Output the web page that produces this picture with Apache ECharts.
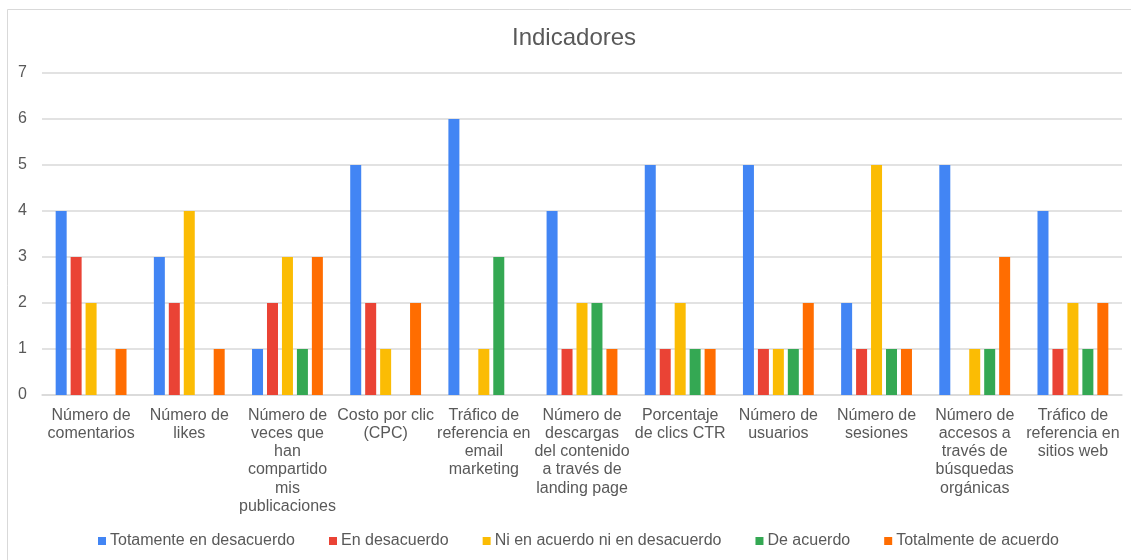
<!DOCTYPE html>
<html>
<head>
<meta charset="utf-8">
<script src="https://cdn.jsdelivr.net/npm/echarts@6/dist/echarts.min.js"></script>
<style>
  html, body { margin: 0; padding: 0; background: #ffffff; }
  #chart { width: 1131px; height: 560px; }
</style>
</head>
<body>
<div id="chart"></div>
<script>
// Category tick labels (pre-wrapped)
const categories = [
  'Número de\ncomentarios',
  'Número de\nlikes',
  'Número de\nveces que\nhan\ncompartido\nmis\npublicaciones',
  'Costo por clic\n(CPC)',
  'Tráfico de\nreferencia en\nemail\nmarketing',
  'Número de\ndescargas\ndel contenido\na través de\nlanding page',
  'Porcentaje\nde clics CTR',
  'Número de\nusuarios',
  'Número de\nsesiones',
  'Número de\naccesos a\ntravés de\nbúsquedas\norgánicas',
  'Tráfico de\nreferencia en\nsitios web'
];

const seriesNames = [
  'Totamente en desacuerdo',
  'En desacuerdo',
  'Ni en acuerdo ni en desacuerdo',
  'De acuerdo',
  'Totalmente de acuerdo'
];

const totalmenteDesacuerdo = [4, 3, 1, 5, 6, 4, 5, 5, 2, 5, 4];
const enDesacuerdo         = [3, 2, 2, 2, 0, 1, 1, 1, 1, 0, 1];
const niAcuerdoNiDesacuerdo = [2, 4, 3, 1, 1, 2, 2, 1, 5, 1, 2];
const deAcuerdo            = [0, 0, 1, 0, 3, 2, 1, 1, 1, 1, 1];
const totalmenteAcuerdo    = [1, 1, 3, 2, 0, 1, 1, 2, 1, 3, 2];

const seriesValues = [
  totalmenteDesacuerdo,
  enDesacuerdo,
  niAcuerdoNiDesacuerdo,
  deAcuerdo,
  totalmenteAcuerdo
];

const colors = ['#4285F4', '#EA4335', '#FBBC04', '#34A853', '#FF6D01'];
const textColor = '#595959';
const fontFamily = '"Liberation Sans", Arial, sans-serif';

const chart = echarts.init(document.getElementById('chart'), null, { renderer: 'canvas' });

chart.setOption({
  backgroundColor: '#ffffff',
  animation: false,
  color: colors,
  textStyle: { fontFamily: fontFamily },
  graphic: [{
    type: 'rect',
    silent: true,
    shape: { x: 7.5, y: 9.5, width: 1140, height: 570 },
    style: { fill: 'none', stroke: '#d9d9d9', lineWidth: 1 }
  }],
  title: {
    text: 'Indicadores',
    left: 512,
    top: 26,
    padding: 0,
    textStyle: { fontFamily: fontFamily, fontSize: 24, fontWeight: 'normal', color: textColor }
  },
  legend: {
    data: seriesNames,
    left: 98,
    top: 533,
    padding: 0,
    itemWidth: 8,
    itemHeight: 8,
    itemGap: 34,
    icon: 'rect',
    textStyle: { fontFamily: fontFamily, fontSize: 16, color: textColor, padding: [0, 0, 0, -1] }
  },
  grid: { left: 42, right: 9, top: 73, bottom: 165, containLabel: false },
  xAxis: {
    type: 'category',
    data: categories,
    axisLine: { show: true, lineStyle: { color: '#d9d9d9', width: 1.5 } },
    axisTick: { show: false },
    axisLabel: {
      interval: 0,
      margin: 11,
      fontFamily: fontFamily,
      fontSize: 16,
      lineHeight: 18.3,
      color: textColor,
      align: 'center',
      verticalAlign: 'top'
    }
  },
  yAxis: {
    type: 'value',
    min: 0,
    max: 7,
    interval: 1,
    axisLine: { show: false },
    axisTick: { show: false },
    splitLine: { lineStyle: { color: '#d9d9d9', width: 1.5 } },
    axisLabel: { margin: 15, fontFamily: fontFamily, fontSize: 16, color: textColor }
  },
  series: seriesNames.map((name, i) => ({
    name: name,
    type: 'bar',
    data: seriesValues[i],
    barWidth: 11,
    barGap: '36%',
    itemStyle: { color: colors[i] }
  }))
});
</script>
</body>
</html>
